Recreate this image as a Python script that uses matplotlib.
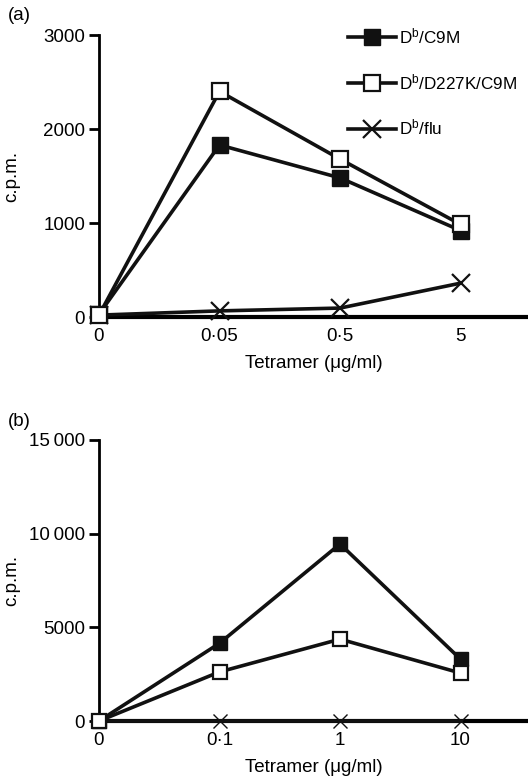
import matplotlib
matplotlib.use("Agg")
import matplotlib.pyplot as plt

plt.rcParams['font.family'] = ['Liberation Sans', 'DejaVu Sans']
plt.rcParams['mathtext.fontset'] = 'custom'
plt.rcParams['mathtext.rm'] = 'Liberation Sans'
plt.rcParams['mathtext.it'] = 'Liberation Sans'

# Panel (a)
a_ticks = ["0", "0\u00b705", "0\u00b75", "5"]
a_c9m = [30, 1830, 1480, 920]
a_d227k = [20, 2400, 1680, 985]
a_flu = [20, 65, 95, 360]
a_yticks = [0, 1000, 2000, 3000]
a_ylabels = ["0", "1000", "2000", "3000"]

# Panel (b)
b_ticks = ["0", "0\u00b71", "1", "10"]
b_c9m = [0, 4150, 9450, 3300]
b_d227k = [0, 2620, 4370, 2560]
b_flu = [0, 0, 0, 0]
b_yticks = [0, 5000, 10000, 15000]
b_ylabels = ["0", "5000", "10\u2009000", "15\u2009000"]

labels = ["D$^{\\mathrm{b}}$/C9M", "D$^{\\mathrm{b}}$/D227K/C9M", "D$^{\\mathrm{b}}$/flu"]

FS = 13.5

fig = plt.figure(figsize=(5.28, 7.84), dpi=100)
ax1 = fig.add_axes([99/528, 1-317/784, 1-99/528, (317-35)/784])
ax2 = fig.add_axes([99/528, 1-721/784, 1-99/528, (721-440)/784])


def draw(ax, ticks, c9m, d227k, flu, yticks, ylabels, ymax, ms, xms, xmew):
    x = list(range(len(ticks)))
    l1, = ax.plot(x, c9m, color='#111111', lw=2.6, marker='s', ms=ms,
                  mfc='#111111', mec='#111111', clip_on=False, zorder=4, label=labels[0])
    l2, = ax.plot(x, d227k, color='#111111', lw=2.6, marker='s', ms=ms,
                  mfc='white', mec='#111111', mew=1.6, clip_on=False, zorder=4, label=labels[1])
    l3, = ax.plot(x, flu, color='#111111', lw=2.6, marker='x', ms=xms,
                  mec='#111111', mew=xmew, clip_on=False, zorder=3, label=labels[2])
    ax.set_xlim(0, 3.56)
    ax.set_ylim(0, ymax)
    ax.set_xticks(x)
    ax.set_xticklabels(ticks, fontsize=FS)
    ax.set_yticks(yticks)
    ax.set_yticklabels(ylabels, fontsize=FS)
    ax.tick_params(axis='x', length=0, pad=8)
    ax.tick_params(axis='y', length=7, width=2, pad=3)
    for s in ['top', 'right']:
        ax.spines[s].set_visible(False)
    ax.spines['left'].set_linewidth(2)
    ax.spines['bottom'].set_linewidth(3)
    ax.set_xlabel("Tetramer (\u03bcg/ml)", fontsize=FS, labelpad=7)
    ax.set_ylabel("c.p.m.", fontsize=FS)
    ax.yaxis.set_label_coords(-(99-20)/429, 0.5)
    ax.patch.set_alpha(0)
    return [l1, l2, l3]


h = draw(ax1, a_ticks, a_c9m, a_d227k, a_flu, a_yticks, a_ylabels, 3000, 11, 13.5, 1.6)
draw(ax2, b_ticks, b_c9m, b_d227k, b_flu, b_yticks, b_ylabels, 15000, 9.5, 9.5, 1.0)

ax1.legend(handles=h, loc='upper left', bbox_to_anchor=((348-99)/429, 1.03),
           frameon=False, fontsize=12.3, handlelength=2.8, handletextpad=0.2,
           labelspacing=1.5, borderaxespad=0, borderpad=0)

fig.text(8/528, 1-15/784, "(a)", fontsize=FS, va='center', ha='left')
fig.text(8/528, 1-422/784, "(b)", fontsize=FS, va='center', ha='left')

fig.savefig("out.png", dpi=100)
